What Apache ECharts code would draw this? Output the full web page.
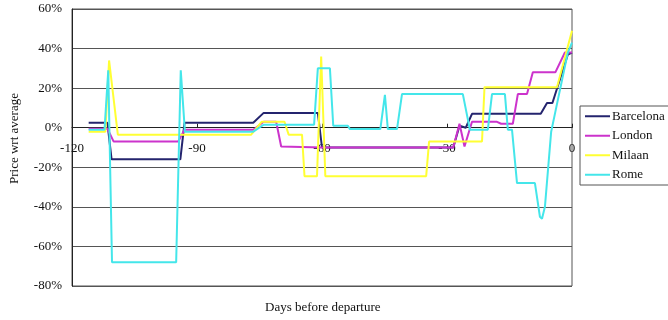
<!DOCTYPE html>
<html>
<head>
<meta charset="utf-8">
<script src="https://cdn.jsdelivr.net/npm/echarts@6/dist/echarts.min.js"></script>
<style>
html,body{margin:0;padding:0;background:#fff;}
#chart{width:668px;height:320px;}
</style>
</head>
<body>
<div id="chart"></div>
<script>
// Days before departure vs price relative to average (%)
const seriesNames = ['Barcelona', 'London', 'Milaan', 'Rome'];
const xTicks = [-120, -90, -60, -30, 0];
const yTicks = [-80, -60, -40, -20, 0, 20, 40, 60];

const barcelona = [[-116, 2.5], [-111.5, 2.5], [-110.5, -16], [-94, -16], [-93, 2.5], [-76.5, 2.5], [-74, 7.5],
  [-61, 7.5], [-60, -10], [-28.5, -10], [-27, 1], [-25.5, 0], [-24, 7], [-7.5, 7], [-6, 12.5], [-4.7, 12.5],
  [-1, 37], [0, 38]];

const london = [[-116, -0.5], [-111.5, -0.5], [-110, -7], [-94.5, -7], [-93, -1], [-76.5, -1], [-74, 3], [-71, 3],
  [-69.8, -9.5], [-60, -10], [-45, -10], [-28.5, -10], [-27, 2], [-25.8, -9.5], [-24, 3], [-18, 3], [-17, 2],
  [-14.2, 2], [-13, 17], [-10.8, 17], [-9.4, 28], [-4, 28], [-1.7, 38], [0, 38]];

const milaan = [[-116, -2], [-112, -2], [-111.1, 34], [-109, -3.5], [-77, -3.5], [-74.5, 3], [-69, 3], [-68, -3.5],
  [-64.8, -3.5], [-64.2, -24.5], [-61.2, -24.5], [-60.2, 36], [-59.2, -24.5], [-35, -24.5], [-34.3, -7],
  [-21.6, -7], [-21, 20.5], [-3.6, 20.5], [0, 49]];

const rome = [[-116, -1], [-112.2, -1], [-111.3, 29], [-110.4, -68], [-95, -68], [-93.9, 29], [-92.9, -2],
  [-76.5, -2], [-74, 1.5], [-61.9, 1.5], [-61, 30], [-58.1, 30], [-57.3, 1], [-53.8, 1], [-53.3, -0.7],
  [-46, -0.7], [-44.9, 16.6], [-44.2, -0.7], [-42, -0.7], [-40.8, 17], [-26.2, 17], [-24.5, -1], [-20.2, -1],
  [-19.2, 17], [-16.1, 17], [-15.4, -1], [-14.4, -1], [-13.2, -28], [-8.9, -28], [-7.7, -45], [-7.2, -46],
  [-6.5, -40], [-5, -2], [-4, 8], [-2, 28], [-1, 38], [0, 43]];

const seriesData = [barcelona, london, milaan, rome];
const colors = ['#24246e', '#cc33cc', '#ffff33', '#44e6ea'];

const serif = '"Liberation Serif", "DejaVu Serif", serif';
const chart = echarts.init(document.getElementById('chart'), null, {renderer: 'canvas'});

const gridTop = 9, gridBottom = 34, chartH = 320;
const plotH = chartH - gridTop - gridBottom;
const yMin = yTicks[0], yMax = yTicks[yTicks.length - 1];
// move the x axis (line + labels) up to the 0% level
const xAxisOffset = -plotH * (0 - yMin) / (yMax - yMin);

chart.setOption({
  animation: false,
  backgroundColor: '#fff',
  grid: {left: 72, right: 96, top: gridTop, bottom: gridBottom, show: true, borderColor: '#555', borderWidth: 1},
  xAxis: {
    type: 'value', min: xTicks[0], max: xTicks[xTicks.length - 1], interval: 30,
    position: 'bottom', offset: xAxisOffset,
    axisLine: {onZero: false, lineStyle: {color: '#222', width: 1}},
    axisTick: {show: true, inside: true, length: 4, lineStyle: {color: '#222'}},
    axisLabel: {margin: 14, fontFamily: serif, fontSize: 13, color: '#111',
      formatter: v => String(v)},
    splitLine: {show: false}
  },
  yAxis: {
    type: 'value', min: yMin, max: yMax, interval: 20,
    name: 'Price wrt average', nameLocation: 'middle', nameGap: 51,
    nameTextStyle: {fontFamily: serif, fontSize: 13, color: '#111', padding: [0, 0, 0, 18]},
    axisLine: {show: true, onZero: false, lineStyle: {color: '#222'}},
    axisTick: {show: false},
    axisLabel: {margin: 10, fontFamily: serif, fontSize: 13, color: '#111', formatter: v => v + '%'},
    splitLine: {show: true, lineStyle: {color: '#555', width: 1}}
  },
  legend: {
    orient: 'vertical', left: 580, top: 106,
    data: seriesNames.map(n => ({name: n, icon: 'rect'})),
    backgroundColor: '#fff', borderColor: '#555', borderWidth: 1,
    padding: [3, 6, 3, 5], itemWidth: 25, itemHeight: 2, itemGap: 5,
    textStyle: {fontFamily: serif, fontSize: 13, color: '#111', lineHeight: 14.5, padding: [0, 0, 0, -3]}
  },
  graphic: [{
    type: 'text', left: 265, top: 301,
    style: {text: 'Days before departure', font: '13px ' + serif, fill: '#111'}
  }],
  series: seriesNames.map((name, i) => ({
    name: name, type: 'line', data: seriesData[i], symbol: 'none', showSymbol: false,
    lineStyle: {color: colors[i], width: 2}, itemStyle: {color: colors[i]}
  }))
});
</script>
</body>
</html>
